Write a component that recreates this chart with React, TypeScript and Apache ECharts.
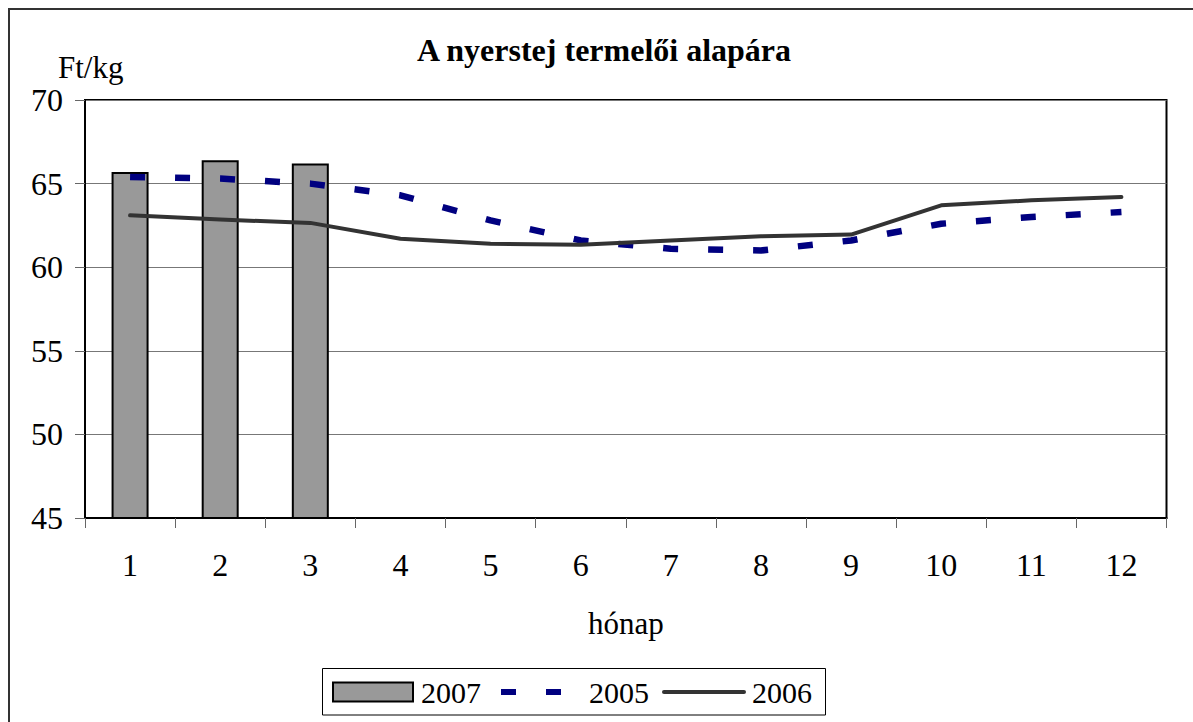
import React, { useEffect, useRef } from "react";
import * as echarts from "echarts";

const months = ["1", "2", "3", "4", "5", "6", "7", "8", "9", "10", "11", "12"];
const values2007 = [65.7, 66.4, 66.2, null, null, null, null, null, null, null, null, null];
const values2005 = [65.4, 65.3, 65.0, 64.3, 62.8, 61.6, 61.1, 61.0, 61.6, 62.6, 63.0, 63.3];
const values2006 = [63.1, 62.85, 62.65, 61.7, 61.4, 61.35, 61.6, 61.85, 61.95, 63.7, 64.0, 64.2];
const yTicks = { min: 45, max: 70, interval: 5 };
const titleText = "A nyerstej termelői alapára";
const yName = "Ft/kg";
const xName = "hónap";

const FONT = "'Liberation Serif', 'Times New Roman', serif";

export default function App() {
  const ref = useRef<HTMLDivElement>(null);
  useEffect(() => {
    if (!ref.current) return;
    const chart = echarts.init(ref.current, null, { renderer: "svg" });
    const legendCommon = {
      orient: "horizontal",
      top: 677,
      padding: 0,
      itemWidth: 80,
      itemHeight: 19,
      textStyle: { fontFamily: FONT, fontSize: 30, color: "#000", padding: [0, 0, 0, 3] },
    };
    chart.setOption({
      animation: false,
      backgroundColor: "#fff",
      textStyle: { fontFamily: FONT },
      grid: {
        left: 85,
        right: 26.5,
        top: 100,
        bottom: 204,
        show: true,
        borderColor: "#000",
        borderWidth: 2,
        containLabel: false,
      },
      legend: [
        {
          ...legendCommon,
          left: 332,
          data: [{ name: "2007", icon: "rect" }],
          itemStyle: { color: "#999999", borderColor: "#000", borderWidth: 2 },
        },
        {
          ...legendCommon,
          left: 498,
          data: [{ name: "2005", itemStyle: { opacity: 0 } }],
          lineStyle: { width: 6, type: [15, 30], color: "#000080", cap: "butt" },
        },
        {
          ...legendCommon,
          left: 662,
          data: [{ name: "2006", itemStyle: { opacity: 0 } }],
          lineStyle: { width: 4, type: "solid", color: "#333333", cap: "round" },
        },
      ],
      xAxis: {
        type: "category",
        data: months,
        boundaryGap: true,
        name: xName,
        nameLocation: "middle",
        nameGap: 90,
        nameTextStyle: { fontFamily: FONT, fontSize: 31, color: "#000" },
        axisLine: { show: true, lineStyle: { color: "#000", width: 2 } },
        axisTick: { show: true, length: 10, lineStyle: { color: "#666", width: 1 } },
        axisLabel: { fontFamily: FONT, fontSize: 32, color: "#000", margin: 31 },
        splitLine: { show: false },
      },
      yAxis: {
        type: "value",
        min: yTicks.min,
        max: yTicks.max,
        interval: yTicks.interval,
        axisLine: { show: true, lineStyle: { color: "#000", width: 2 } },
        axisTick: { show: true, length: 10, lineStyle: { color: "#666", width: 1 } },
        axisLabel: { fontFamily: FONT, fontSize: 32, color: "#000", margin: 22 },
        splitLine: { show: true, lineStyle: { color: "#777", width: 1 } },
      },
      series: [
        {
          name: "2007",
          type: "bar",
          data: values2007,
          barWidth: 37,
          itemStyle: { color: "#999999", borderColor: "#000", borderWidth: 2 },
        },
        {
          name: "2005",
          type: "line",
          data: values2005,
          symbol: "none",
          lineStyle: { color: "#000080", width: 6.5, type: [15, 30], cap: "butt" },
          itemStyle: { color: "#000080" },
        },
        {
          name: "2006",
          type: "line",
          data: values2006,
          symbol: "none",
          lineStyle: { color: "#333333", width: 4, type: "solid", cap: "round", join: "round" },
          itemStyle: { color: "#333333" },
        },
      ],
      graphic: [
        {
          type: "rect",
          shape: { x: 9, y: 9, width: 1200, height: 730 },
          style: { fill: "none", stroke: "#333", lineWidth: 2 },
          silent: true,
        },
        {
          type: "rect",
          shape: { x: 322.5, y: 668.5, width: 503, height: 46.5 },
          style: { fill: "none", stroke: "#000", lineWidth: 1 },
          silent: true,
        },
        {
          type: "text",
          x: 604,
          y: 50,
          style: {
            text: titleText,
            font: `bold 32px ${FONT}`,
            fill: "#000",
            textAlign: "center",
            textVerticalAlign: "middle",
          },
        },
        {
          type: "text",
          x: 58,
          y: 67,
          style: {
            text: yName,
            font: `31px ${FONT}`,
            fill: "#000",
            textAlign: "left",
            textVerticalAlign: "middle",
          },
        },
      ],
    });
    return () => chart.dispose();
  }, []);
  return (
    <div
      ref={ref}
      style={{ position: "fixed", left: 0, top: 0, width: 1193, height: 722, background: "#fff" }}
    />
  );
}
